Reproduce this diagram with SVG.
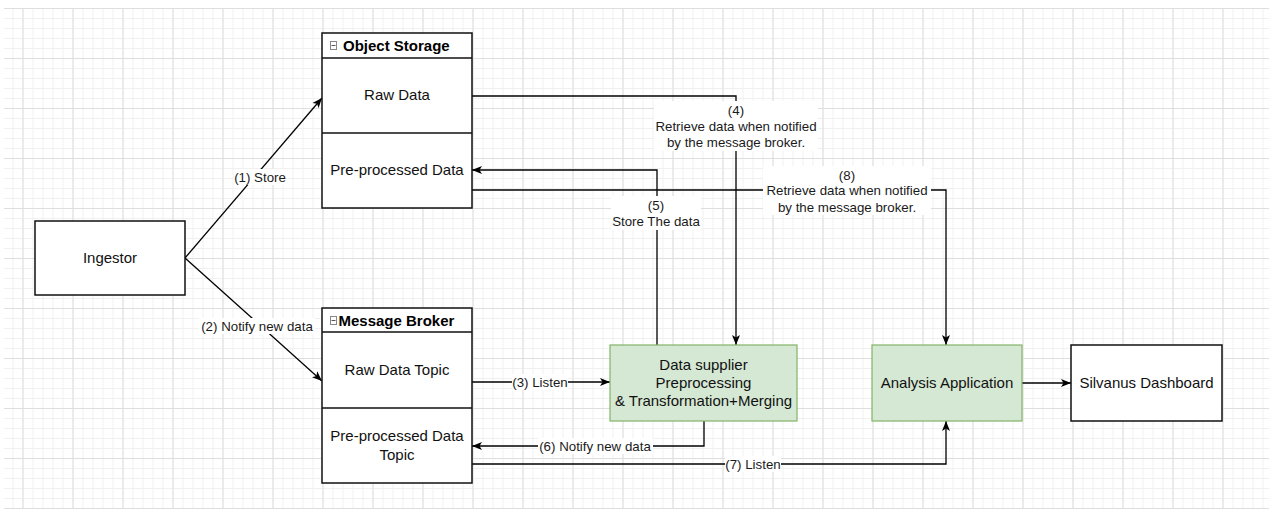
<svg xmlns="http://www.w3.org/2000/svg" width="1269" height="509" viewBox="0 0 1269 509">
<defs>
<pattern id="minor" x="2.5" y="8" width="10" height="10" patternUnits="userSpaceOnUse">
<path d="M0,0.5 H10 M0.5,0 V10" fill="none" stroke="#f0f0f0" stroke-width="1"/>
</pattern>
<pattern id="major" x="22.5" y="8" width="50" height="50" patternUnits="userSpaceOnUse">
<path d="M0,0.5 H50 M0.5,0 V50" fill="none" stroke="#dedede" stroke-width="1"/>
</pattern>
<marker id="arr" markerWidth="11" markerHeight="9" refX="10" refY="4.5" orient="auto" markerUnits="userSpaceOnUse">
<path d="M0,0.5 L10,4.5 L0,8.5 L2.5,4.5 Z" fill="#000"/>
</marker>
</defs>
<style>
.box{fill:#fff;stroke:#111;stroke-width:1.5}
.green{fill:#d5e8d4;stroke:#82b366;stroke-width:1.2}
.sep{stroke:#111;stroke-width:1.5}
.t{font-family:"Liberation Sans",Arial,sans-serif;font-size:15px;fill:#111;text-anchor:middle}
.title{font-family:"Liberation Sans",Arial,sans-serif;font-size:15px;font-weight:bold;fill:#000}
.lbl{font-family:"Liberation Sans",Arial,sans-serif;font-size:13.3px;fill:#1a1a1a;text-anchor:middle}
.edge{fill:none;stroke:#000;stroke-width:1.3}
.bg{fill:#fff}
.icon{fill:#fff;stroke:#888;stroke-width:1}
</style>
<rect width="1269" height="509" fill="#fff"/>
<rect x="4" y="8" width="1265" height="501" fill="url(#minor)"/>
<rect x="4" y="8" width="1265" height="501" fill="url(#major)"/>

<g id="connectors">
<path class="edge" d="M185,258 L322,98" marker-end="url(#arr)"/>
<path class="edge" d="M185,258 L322,381" marker-end="url(#arr)"/>
<path class="edge" d="M472,382 L610,382" marker-end="url(#arr)"/>
<path class="edge" d="M472,96 L736,96 L736,345" marker-end="url(#arr)"/>
<path class="edge" d="M657,345 L657,170 L472,170" marker-end="url(#arr)"/>
<path class="edge" d="M704,421 L704,446 L472,446" marker-end="url(#arr)"/>
<path class="edge" d="M472,464 L946,464 L946,421" marker-end="url(#arr)"/>
<path class="edge" d="M472,190 L946,190 L946,345" marker-end="url(#arr)"/>
<path class="edge" d="M1022,383 L1071,383" marker-end="url(#arr)"/>

<rect class="bg" x="234" y="169" width="52" height="16"/>
<text class="lbl" x="260" y="181.7">(1) Store</text>
<rect class="bg" x="199" y="318" width="116" height="16"/>
<text class="lbl" x="257" y="330.7">(2) Notify new data</text>
<rect class="bg" x="512" y="374" width="56" height="16"/>
<text class="lbl" x="540" y="386.7">(3) Listen</text>
<rect class="bg" x="654" y="101" width="164" height="50"/>
<text class="lbl" x="736" y="115.4">(4)</text>
<text class="lbl" x="736" y="131.4">Retrieve data when notified</text>
<text class="lbl" x="736" y="147.4">by the message broker.</text>
<rect class="bg" x="611" y="196" width="90" height="34"/>
<text class="lbl" x="656" y="209.7">(5)</text>
<text class="lbl" x="656" y="226.4">Store The data</text>
<rect class="bg" x="538" y="438" width="115" height="16"/>
<text class="lbl" x="595" y="450.7">(6) Notify new data</text>
<rect class="bg" x="725" y="456" width="56" height="16"/>
<text class="lbl" x="753" y="468.7">(7) Listen</text>
<rect class="bg" x="763" y="166" width="168" height="49"/>
<text class="lbl" x="847" y="179.7">(8)</text>
<text class="lbl" x="847" y="195.4">Retrieve data when notified</text>
<text class="lbl" x="847" y="212">by the message broker.</text>
</g>

<g id="ingestor">
<rect class="box" x="35" y="221" width="150" height="74"/>
<text class="t" x="110" y="263.4">Ingestor</text>
</g>

<g id="object-storage">
<rect class="box" x="322" y="33" width="150" height="175"/>
<line class="sep" x1="322" y1="58" x2="472" y2="58"/>
<line class="sep" x1="322" y1="133" x2="472" y2="133"/>
<rect class="icon" x="330.5" y="41.5" width="6" height="8"/>
<line x1="331.5" y1="45.5" x2="335.5" y2="45.5" stroke="#555" stroke-width="1"/>
<text class="title" x="343" y="51">Object Storage</text>
<text class="t" x="397" y="100.4">Raw Data</text>
<text class="t" x="397" y="175.4">Pre-processed Data</text>
</g>

<g id="message-broker">
<rect class="box" x="322" y="308" width="150" height="175"/>
<line class="sep" x1="322" y1="332" x2="472" y2="332"/>
<line class="sep" x1="322" y1="408" x2="472" y2="408"/>
<rect class="icon" x="330.5" y="316.5" width="6" height="8"/>
<line x1="331.5" y1="320.5" x2="335.5" y2="320.5" stroke="#555" stroke-width="1"/>
<text class="title" x="338.5" y="326">Message Broker</text>
<text class="t" x="397" y="375.4">Raw Data Topic</text>
<text class="t" x="397" y="441.4">Pre-processed Data</text>
<text class="t" x="397" y="460.4">Topic</text>
</g>

<g id="data-supplier">
<rect class="green" x="610" y="345" width="187" height="76"/>
<text class="t" x="703.5" y="370.4">Data supplier</text>
<text class="t" x="703.5" y="388">Preprocessing</text>
<text class="t" x="703.5" y="406.4">&amp; Transformation+Merging</text>
</g>

<g id="analysis-application">
<rect class="green" x="872" y="345" width="150" height="76"/>
<text class="t" x="947" y="388.4">Analysis Application</text>
</g>

<g id="silvanus-dashboard">
<rect class="box" x="1071" y="345" width="151" height="76"/>
<text class="t" x="1146.5" y="388.4">Silvanus Dashboard</text>
</g>
</svg>
